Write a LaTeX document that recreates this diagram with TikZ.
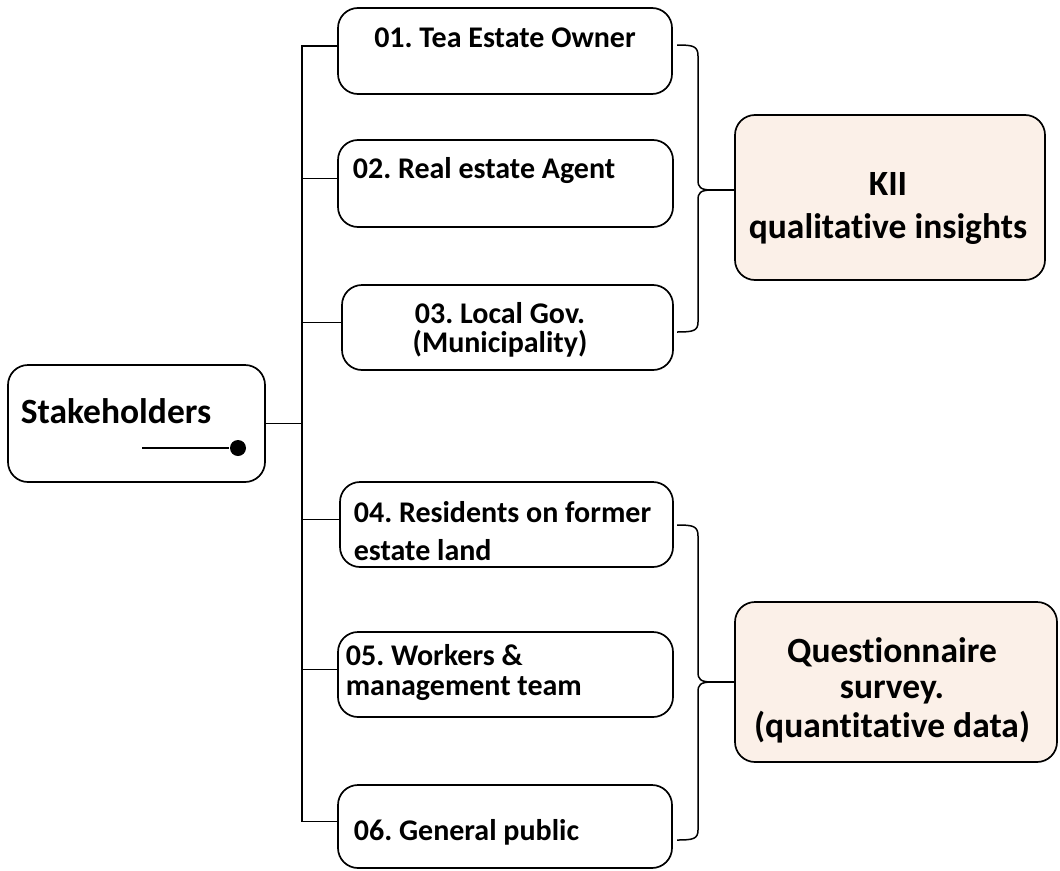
\documentclass[tikz,border=0pt]{standalone}
\usepackage{fontspec}
\setmainfont{Carlito}[Ligatures=NoCommon]
\frenchspacing
\definecolor{peach}{HTML}{FBF0E8}
\begin{document}
\begin{tikzpicture}[x=1pt,y=-1pt,line width=1.7pt,
  box/.style={draw,rounded corners=20pt,inner sep=0pt},
  smalltxt/.style={inner sep=0pt,font=\bfseries\fontsize{30}{30}\selectfont},
  bigtxt/.style={inner sep=0pt,font=\bfseries\fontsize{35.5}{35}\selectfont},
  conn/.style={line width=1.5pt}]
\useasboundingbox (0,0) rectangle (1060,870);
% boxes
\node[box,minimum width=257pt,minimum height=117pt] (stake) at (136.5,423.5) {};
\node[box,minimum width=334pt,minimum height=86pt] (b1) at (505,51) {};
\node[box,minimum width=335pt,minimum height=87pt] (b2) at (505.5,183.5) {};
\node[box,minimum width=331pt,minimum height=85pt] (b3) at (507.5,327.5) {};
\node[box,minimum width=333pt,minimum height=85pt] (b4) at (506.5,524.5) {};
\node[box,minimum width=335pt,minimum height=85pt] (b5) at (505.5,674.5) {};
\node[box,minimum width=334pt,minimum height=83pt] (b6) at (505,826.5) {};
\node[box,fill=peach,minimum width=310pt,minimum height=165pt] (kii) at (890,197.5) {};
\node[box,fill=peach,minimum width=322pt,minimum height=160pt] (qs) at (896,682) {};
% texts
\node[bigtxt,anchor=base west] (tst) at (20,423) {Stakeholders};
\node[smalltxt,anchor=base] (t1) at (505,47) {01. Tea Estate Owner};
\node[smalltxt,anchor=base west] (t2) at (352,178) {02. Real estate Agent};
\node[smalltxt,align=center,font=\bfseries\fontsize{30}{28.5}\selectfont] (t3) at (500,330) {03. Local Gov.\\(Municipality)};
\node[smalltxt,anchor=base west] (t4a) at (353,522) {04. Residents on former};
\node[smalltxt,anchor=base west] (t4b) at (353,560) {estate land};
\node[smalltxt,align=left,anchor=west,font=\bfseries\fontsize{30}{30}\selectfont] (t5) at (345,673) {05. Workers \&\\management team};
\node[smalltxt,anchor=base west] (t6) at (353,840) {06. General public};
\node[bigtxt,anchor=base] (k1) at (888,195) {KII};
\node[bigtxt,anchor=base] (k2) at (888,238) {qualitative insights};
\node[bigtxt,anchor=base] (q1) at (892,662) {Questionnaire};
\node[bigtxt,anchor=base] (q2) at (892,698) {survey.};
\node[bigtxt,anchor=base] (q3) at (892,737) {(quantitative data)};
% dot line inside Stakeholders
\coordinate (dl) at (142,448);
\node[circle,fill,inner sep=0pt,minimum size=16pt] (dot) at (238,448) {};
\draw[line width=2.4pt] (dl) -- (dot);
% tree connectors
\coordinate (tx) at (302,0);
\draw[conn] ([yshift=5pt]b1.west) -- ([yshift=5pt]b1.west -| tx) -- ([yshift=5pt]b6.west -| tx) -- ([yshift=5pt]b6.west);
\foreach \b in {b2,b3,b4,b5} {
  \draw[conn] ([yshift=5pt]\b.west) -- ([yshift=5pt]\b.west -| tx);
}
\draw[conn] (stake.east) -- (stake.east -| tx);
% braces
\coordinate (m1) at (712,190);
\coordinate (m2) at (712,682);
\draw[conn] (677,45) .. controls (693,45) and (698,46) .. (698,56) -- (698,180)
  .. controls (698,187) and (700,190) .. (m1)
  .. controls (700,190) and (698,193) .. (698,200) -- (698,322)
  .. controls (698,331) and (693,332) .. (677,332);
\draw[conn] (m1) -- (m1 -| kii.west);
\draw[conn] (677,525) .. controls (693,525) and (698,526) .. (698,536) -- (698,672)
  .. controls (698,679) and (700,682) .. (m2)
  .. controls (700,682) and (698,685) .. (698,692) -- (698,830)
  .. controls (698,839) and (693,840) .. (677,840);
\draw[conn] (m2) -- (m2 -| qs.west);
\end{tikzpicture}
\end{document}
